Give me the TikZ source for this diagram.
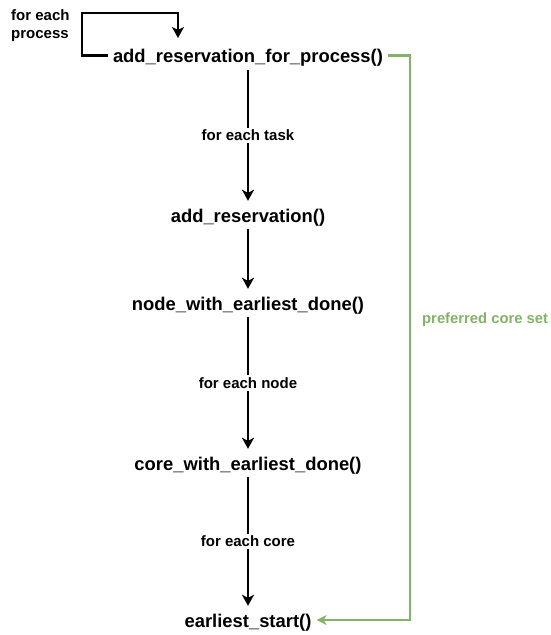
\documentclass[tikz,border=0pt]{standalone}
\usepackage{fontspec}
\setmainfont{Liberation Sans}
\usetikzlibrary{arrows.meta}
\definecolor{dgreen}{HTML}{82B366}
\begin{document}
\begin{tikzpicture}[x=1pt,y=-1pt,
  fn/.style={font=\bfseries\fontsize{18.4}{22}\selectfont, text height=17pt, text depth=3pt, inner ysep=4pt, inner xsep=5pt},
  lbl/.style={font=\bfseries\fontsize{15}{18}\selectfont, fill=white, inner sep=2pt},
  arr/.style={line width=2.6pt, -{Stealth[length=11pt,width=12pt,inset=3pt]}},
  garr/.style={draw=dgreen, line width=2.2pt, -{Stealth[length=10pt,width=10pt,inset=3pt]}}]
\useasboundingbox (0,0) rectangle (550,635);
\node[fn] (p) at (248,55.5) {add\_reservation\_for\_process()};
\node[fn] (r) at (248,215) {add\_reservation()};
\node[fn] (n) at (248,303) {node\_with\_earliest\_done()};
\node[fn] (c) at (248,463) {core\_with\_earliest\_done()};
\node[fn] (s) at (248,620) {earliest\_start()};
\node[font=\bfseries\fontsize{15}{18}\selectfont, align=left, anchor=north west, inner sep=0pt] (fep) at (11,9) {for each\\process};
\coordinate (lp1) at (82,13);
\coordinate (lpend) at (178,38);
\draw[arr] (p.west) -| (lp1) -| (lpend);
\draw[arr] (p) -- (r) node[lbl, pos=0.5] (t1) {for each task};
\draw[arr] (r) -- (n);
\draw[arr] (n) -- (c) node[lbl, pos=0.5] (t2) {for each node};
\draw[arr] (c) -- (s) node[lbl, pos=0.5] (t3) {for each core};
\coordinate (gx) at (410,0);
\draw[garr] (p.east) -- (p.east -| gx) |- (s.east);
\node[font=\bfseries\fontsize{14.8}{18}\selectfont, text=dgreen, anchor=west, inner sep=0pt] (pcs) at (422,320) {preferred core set};
\end{tikzpicture}
\end{document}
